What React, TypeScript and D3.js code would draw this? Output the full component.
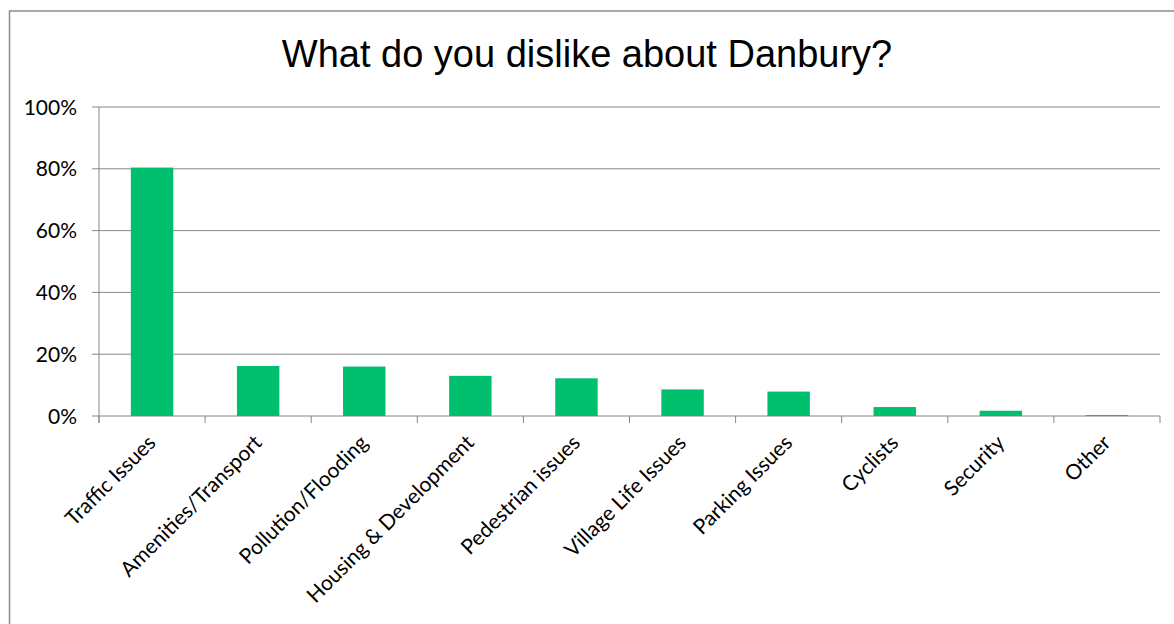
import React from "react";
import * as d3 from "d3";

const categories = [
  "Traffic Issues",
  "Amenities/Transport",
  "Pollution/Flooding",
  "Housing & Development",
  "Pedestrian issues",
  "Village Life Issues",
  "Parking Issues",
  "Cyclists",
  "Security",
  "Other",
];
const values = [0.804, 0.162, 0.16, 0.13, 0.122, 0.086, 0.079, 0.029, 0.017, 0.003];
const yTicks = [0, 0.2, 0.4, 0.6, 0.8, 1.0];
const title = "What do you dislike about Danbury?";

const W = 1174;
const H = 624;
const left = 99;
const right = 1160;
const top = 107;
const bottom = 416;
const gridColor = "#868686";
const barColor = "#00BF6F";
const labelFont = "Lato, 'Open Sans', sans-serif";

export default function App() {
  const x = d3
    .scaleBand<string>()
    .domain(categories)
    .range([left, right])
    .paddingInner(0.6)
    .paddingOuter(0.3);
  const y = d3.scaleLinear().domain([0, 1]).range([bottom, top]);
  const step = x.step();
  const fmt = d3.format(".0%");
  const tickXs = d3.range(categories.length + 1).map((i) => left + i * step);

  return (
    <svg
      width={W}
      height={H}
      style={{ position: "absolute", left: 0, top: 0, background: "#fff" }}
    >
      <rect x={9.5} y={11} width={W + 20} height={H + 20} fill="#fff" stroke="#8c8c8c" strokeWidth={1.5} />
      <text
        x={587}
        y={67}
        textAnchor="middle"
        fontFamily="'Liberation Sans', Arial, sans-serif"
        fontSize={38}
        fill="#000"
      >
        {title}
      </text>
      {yTicks.map((t) => (
        <g key={t}>
          <line x1={left - 7} x2={right} y1={y(t)} y2={y(t)} stroke={gridColor} strokeWidth={1} />
          <text
            x={77}
            y={y(t)}
            dy="0.36em"
            textAnchor="end"
            fontFamily={labelFont}
            fontSize={21}
            fill="#000"
          >
            {fmt(t)}
          </text>
        </g>
      ))}
      <line x1={left} x2={left} y1={top} y2={bottom + 7} stroke={gridColor} strokeWidth={1} />
      {tickXs.map((tx, i) => (
        <line key={i} x1={tx} x2={tx} y1={bottom} y2={bottom + 7} stroke={gridColor} strokeWidth={1} />
      ))}
      {categories.map((c, i) => (
        <rect
          key={c}
          x={x(c)}
          y={y(values[i])}
          width={x.bandwidth()}
          height={bottom - y(values[i])}
          fill={barColor}
        />
      ))}
      {categories.map((c) => {
        const cx = (x(c) as number) + x.bandwidth() / 2 + 5;
        const cy = 444;
        return (
          <text
            key={c}
            x={cx}
            y={cy}
            textAnchor="end"
            transform={`rotate(-45 ${cx} ${cy})`}
            fontFamily={labelFont}
            fontSize={21}
            fill="#000"
          >
            {c}
          </text>
        );
      })}
    </svg>
  );
}
